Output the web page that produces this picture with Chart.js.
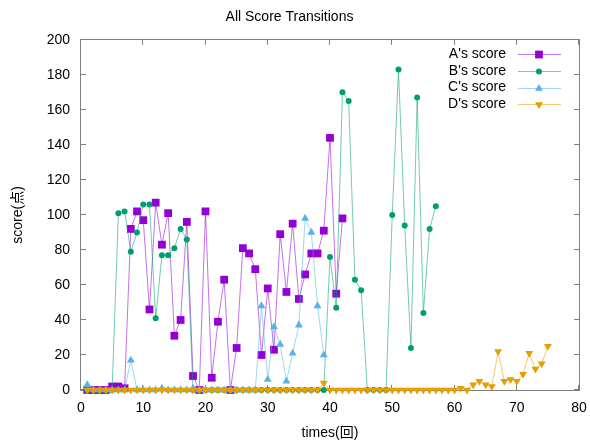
<!DOCTYPE html>
<html><head><meta charset="utf-8">
<script src="https://cdn.jsdelivr.net/npm/chart.js@4.4.0/dist/chart.umd.min.js"></script>
<style>html,body{margin:0;padding:0;background:#fff;overflow:hidden;}</style>
</head><body>
<canvas id="c" width="590" height="443" style="display:block;width:590px;height:443px"></canvas>
<script>
// ---- data ----
const times = [1,2,3,4,5,6,7,8,9,10,11,12,13,14,15,16,17,18,19,20,21,22,23,24,25,26,27,28,29,30,
  31,32,33,34,35,36,37,38,39,40,41,42,43,44,45,46,47,48,49,50,51,52,53,54,55,56,57,58,59,60,
  61,62,63,64,65,66,67,68,69,70,71,72,73,74,75];
const aScore = [0,0,0,0,2,2,1,92,102,97,46,107,83,101,31,40,96,8,0,102,7,39,63,0,24,81,78,69,20,58,
  23,89,56,95,52,66,78,78,91,144,55,98];
const bScore = [0,0,0,0,0,101,102,79,90,106,106,41,77,77,81,92,86,0,0,0,0,0,0,0,0,0,0,0,0,0,
  0,0,0,0,0,0,0,0,0,76,47,170,165,63,57,0,0,0,0,100,183,94,24,167,44,92,105];
const cScore = [3,0,0,0,0,0,0,17,0,0,0,0,1,0,0,0,0,1,0,0,0,0,0,0,0,0,0,0,48,6,
  36,26,5,21,37,98,90,48,20];
const dScore = [0,0,0,0,0,0,0,0,0,0,0,0,0,0,0,0,0,0,0,0,0,0,0,0,0,0,0,0,0,0,
  0,0,0,0,0,0,0,0,4,0,0,0,0,0,0,0,0,0,0,0,0,0,0,0,0,0,0,0,0,0,
  1,0,3,5,3,2,22,5,6,5,9,21,12,15,25];
const seriesNames = ["A's score", "B's score", "C's score", "D's score"];
const xTickValues = [0,10,20,30,40,50,60,70,80];
const yTickValues = [0,20,40,60,80,100,120,140,160,180,200];

// ---- styles ----
const pointColors = ['#9400D3', '#009E73', '#56B4E9', '#E69F00'];
const lineColors = ['rgba(148,0,211,0.55)', 'rgba(0,158,115,0.55)', 'rgba(86,180,233,0.55)', 'rgba(230,159,0,0.55)'];
const pStyles = ['rect', 'circle', 'triangle', 'triangle'];
const pRadius = [5.5, 3, 4.6, 4.6];
const pRot = [0, 0, 0, 180];
const allScores = [aScore, bScore, cScore, dScore];

const FONT = "'Liberation Sans', Arial, 'Noto Sans CJK JP', sans-serif";
Chart.defaults.font.family = FONT;
Chart.defaults.font.size = 14;
Chart.defaults.color = '#000';

const datasets = allScores.map((arr, i) => ({
  label: seriesNames[i],
  data: arr.map((v, k) => ({x: times[k], y: v})),
  borderColor: lineColors[i],
  backgroundColor: pointColors[i],
  borderWidth: 1,
  pointStyle: pStyles[i],
  pointRadius: pRadius[i],
  pointRotation: pRot[i],
  pointBackgroundColor: pointColors[i],
  pointBorderWidth: 0,
  tension: 0,
  clip: false,
  order: 3 - i
}));

const frameColor = '#808080';
const framePlugin = {
  id: 'frame',
  beforeDatasetsDraw(chart) {
    const {ctx, chartArea: a, scales} = chart;
    ctx.save();
    ctx.strokeStyle = frameColor;
    ctx.lineWidth = 1;
    ctx.strokeRect(Math.round(a.left) - 0.5, Math.round(a.top) - 0.5,
      Math.round(a.right - a.left) + 1, Math.round(a.bottom - a.top) + 1);
    ctx.beginPath();
    const tl = 5;
    yTickValues.forEach(v => {
      const py = Math.round(scales.y.getPixelForValue(v)) - 0.5;
      ctx.moveTo(a.left, py); ctx.lineTo(a.left + tl, py);
      ctx.moveTo(a.right, py); ctx.lineTo(a.right - tl, py);
    });
    xTickValues.forEach(v => {
      const px = Math.round(scales.x.getPixelForValue(v)) - 0.5;
      ctx.moveTo(px, a.bottom); ctx.lineTo(px, a.bottom - tl);
      ctx.moveTo(px, a.top); ctx.lineTo(px, a.top + tl);
    });
    ctx.stroke();
    ctx.restore();
  }
};

const legendPlugin = {
  id: 'keyBox',
  afterDraw(chart) {
    const ctx = chart.ctx;
    ctx.save();
    ctx.font = '14px ' + FONT;
    ctx.textAlign = 'right';
    ctx.textBaseline = 'middle';
    seriesNames.forEach((name, i) => {
      const y = 54 + i * 16.8;
      ctx.fillStyle = '#000';
      ctx.fillText(name, 506, y);
      ctx.strokeStyle = lineColors[i];
      ctx.lineWidth = 1;
      ctx.beginPath();
      ctx.moveTo(518, Math.round(y) + 0.5);
      ctx.lineTo(561, Math.round(y) + 0.5);
      ctx.stroke();
      ctx.fillStyle = pointColors[i];
      Chart.helpers.drawPoint(ctx, {pointStyle: pStyles[i], radius: pRadius[i], rotation: pRot[i], borderWidth: 0}, 539, Math.round(y) + 0.5);
    });
    ctx.restore();
  }
};

new Chart(document.getElementById('c'), {
  type: 'line',
  data: {datasets},
  options: {
    responsive: false,
    animation: false,
    events: [],
    devicePixelRatio: 1,
    layout: {padding: {left: 0, right: 11, top: 0, bottom: 0}},
    plugins: {
      legend: {display: false},
      tooltip: {enabled: false},
      title: {display: true, text: 'All Score Transitions', color: '#000',
        font: {size: 14, weight: 'normal'}, padding: {top: 9, bottom: 14}}
    },
    scales: {
      x: {
        type: 'linear', min: 0, max: 80,
        afterBuildTicks(s) { s.ticks = xTickValues.map(v => ({value: v})); },
        afterFit(s) { s.height = 53; s.paddingLeft = 0; s.paddingRight = 0; },
        grid: {display: false, drawTicks: false},
        border: {display: false},
        ticks: {padding: 10, color: '#000', font: {size: 14}, maxRotation: 0},
        title: {display: true, text: 'times(回)', color: '#000', font: {size: 14}, padding: {top: 0, bottom: 1}}
      },
      y: {
        type: 'linear', min: 0, max: 200,
        afterBuildTicks(s) { s.ticks = yTickValues.map(v => ({value: v})); },
        afterFit(s) { s.width = 81; s.paddingTop = 0; s.paddingBottom = 0; },
        grid: {display: false, drawTicks: false},
        border: {display: false},
        ticks: {padding: 11, color: '#000', font: {size: 14}},
        title: {display: true, text: 'score(点)', color: '#000', font: {size: 14}, padding: {top: 10, bottom: 0}}
      }
    }
  },
  plugins: [framePlugin, legendPlugin]
});
</script>
</body></html>
